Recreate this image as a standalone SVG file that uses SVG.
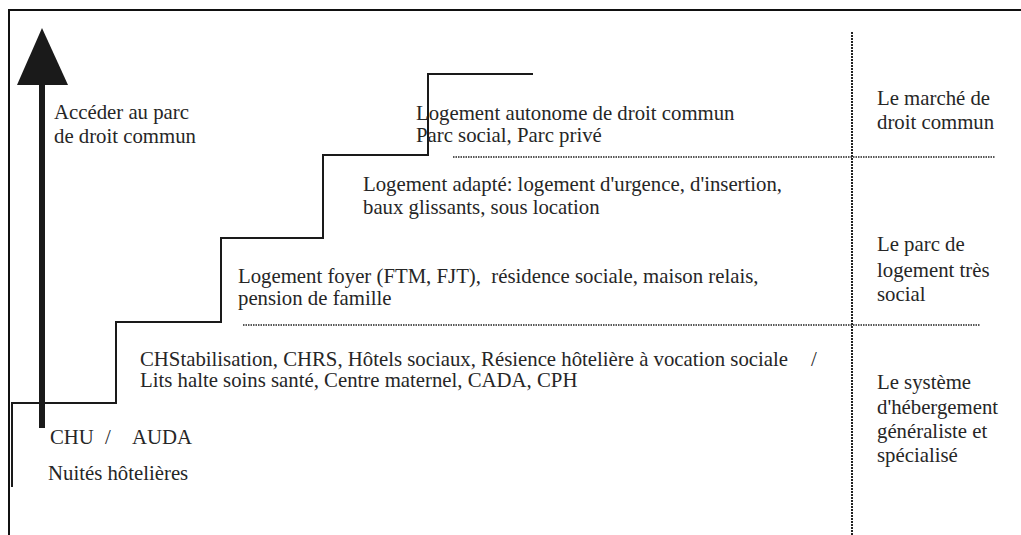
<svg xmlns="http://www.w3.org/2000/svg" width="1021" height="535" viewBox="0 0 1021 535">
<style>
.t{font-family:"Liberation Serif","Times New Roman",serif;font-size:22px;fill:#262626}
.frame{stroke:#111;stroke-width:2;fill:none}
.stair{stroke:#1a1a1a;stroke-width:2;fill:none}
.dot{stroke:#222;stroke-width:1.5;stroke-dasharray:1.5 1;fill:none}
.vdot{stroke:#222;stroke-width:2;stroke-dasharray:2 1;fill:none}
</style>
<rect width="1021" height="535" fill="#fff"/>
<g id="frame">
<path class="frame" d="M9,535 V10 H1021"/>
</g>
<g id="connectors">
<path id="stairs" class="stair" d="M12,487 V403 H116 V322 H221 V238 H323 V155 H428 V74 H533"/>
<path class="dot" d="M453,157 H995"/>
<path class="dot" d="M243,325 H980"/>
<path class="vdot" d="M852,32 V535"/>
<line x1="42" y1="428" x2="42" y2="82" stroke="#1a1a1a" stroke-width="6"/>
<polygon points="42,28 17,85 68,85" fill="#1a1a1a"/>
</g>
<g id="arrow-label">
<text class="t" transform="translate(54,119) scale(0.945,1)">Accéder au parc</text>
<text class="t" transform="translate(54,143) scale(0.945,1)">de droit commun</text>
</g>
<g id="step5">
<text class="t" transform="translate(416,120) scale(0.945,1)">Logement autonome de droit commun</text>
<text class="t" transform="translate(416,142) scale(0.945,1)">Parc social, Parc privé</text>
</g>
<g id="step4">
<text class="t" transform="translate(363,191) scale(0.945,1)">Logement adapté: logement d'urgence, d'insertion,</text>
<text class="t" transform="translate(363,214) scale(0.945,1)">baux glissants, sous location</text>
</g>
<g id="step3">
<text class="t" transform="translate(238,283) scale(0.945,1)" xml:space="preserve">Logement foyer (FTM, FJT),  résidence sociale, maison relais,</text>
<text class="t" transform="translate(238,305) scale(0.945,1)">pension de famille</text>
</g>
<g id="step2">
<text class="t" transform="translate(140,366) scale(0.945,1)">CHStabilisation, CHRS, Hôtels sociaux, Résience hôtelière à vocation sociale</text>
<text class="t" transform="translate(811,366) scale(0.945,1)">/</text>
<text class="t" transform="translate(140,387) scale(0.945,1)">Lits halte soins santé, Centre maternel, CADA, CPH</text>
</g>
<g id="step1">
<text class="t" transform="translate(50,444) scale(0.945,1)">CHU</text>
<text class="t" transform="translate(105,444) scale(0.945,1)">/</text>
<text class="t" transform="translate(132,444) scale(0.945,1)">AUDA</text>
<text class="t" transform="translate(48,480) scale(0.945,1)">Nuités hôtelières</text>
</g>
<g id="cat1">
<text class="t" transform="translate(877,105) scale(0.945,1)">Le marché de</text>
<text class="t" transform="translate(877,129) scale(0.945,1)">droit commun</text>
</g>
<g id="cat2">
<text class="t" transform="translate(877,251) scale(0.945,1)">Le parc de</text>
<text class="t" transform="translate(877,277) scale(0.945,1)">logement très</text>
<text class="t" transform="translate(877,301) scale(0.945,1)">social</text>
</g>
<g id="cat3">
<text class="t" transform="translate(877,389) scale(0.945,1)">Le système</text>
<text class="t" transform="translate(877,414) scale(0.945,1)">d'hébergement</text>
<text class="t" transform="translate(877,438) scale(0.945,1)">généraliste et</text>
<text class="t" transform="translate(877,462) scale(0.945,1)">spécialisé</text>
</g>
</svg>
